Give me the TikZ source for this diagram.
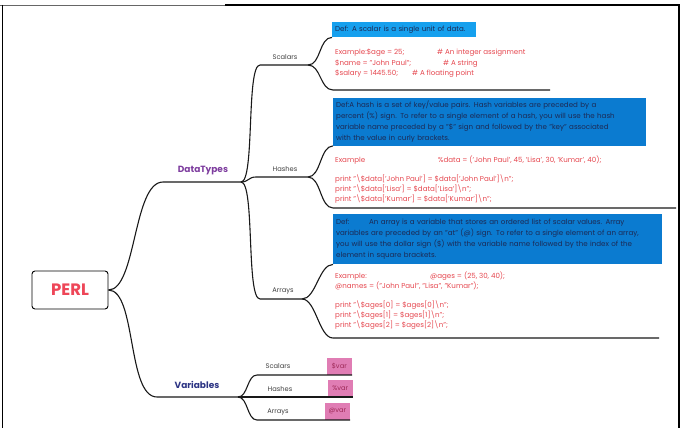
\documentclass[tikz,border=0pt]{standalone}
\usepackage{fontspec}
\setmainfont{Poppins}

\definecolor{perlred}{HTML}{EE4658}
\definecolor{dtpurple}{HTML}{7D3C9E}
\definecolor{varnavy}{HTML}{2C3484}
\definecolor{codered}{HTML}{E5474F}
\definecolor{defnavy}{HTML}{1C2A55}
\definecolor{scalarblue}{HTML}{16A0EE}
\definecolor{defblue}{HTML}{0B7BD0}
\definecolor{varpink}{HTML}{E07DB4}
\definecolor{varred}{HTML}{9E2A58}

\begin{document}
\begin{tikzpicture}[
    x=1pt, y=-1pt,
    branch/.style={line width=1.1pt, black!90},
    rootbox/.style={draw, line width=0.9pt, rounded corners=3pt, minimum width=76, minimum height=38,
      text=perlred, font=\fontsize{16.5}{18}\selectfont\bfseries},
    maintopic/.style={inner sep=0, font=\fontsize{9}{11}\selectfont\bfseries},
    topic/.style={inner sep=0, text=black!75, font=\fontsize{6.7}{8}\selectfont},
    defbox/.style={fill=#1, text=defnavy, anchor=north west, align=left, inner xsep=3, inner ysep=3,
      font=\fontsize{7.1}{11}\selectfont},
    codetext/.style={text=codered, anchor=north west, align=left, inner sep=0,
      font=\fontsize{7.1}{10.4}\selectfont},
    varbox/.style={fill=varpink, text=varred, minimum width=25, minimum height=17, inner sep=0,
      anchor=south east, font=\fontsize{6.7}{8}\selectfont}]
    % 画布大小
    \useasboundingbox (0,0) rectangle (683,428);
    % 外框
    \draw[black!60, line width=0.8pt] (0,5) -- (225,5);
    \draw[line width=1.5pt] (225,5) -- (679,5) -- (679,428);
    \draw[line width=0.8pt] (2,5) -- (2,428);

    % 中心主题
    \node[rootbox] (perl) at (70,290) {PERL};

    % 一级主题 DataTypes、Variables
    \coordinate (dtL) at (163,182);
    \coordinate (dtR) at (241,182);
    \node[maintopic, text=dtpurple] (dt) at (203,171) {DataTypes};
    \coordinate (vrL) at (157,397);
    \coordinate (vrR) at (238,397);
    \node[maintopic, text=varnavy] (vr) at (197,385) {Variables};
    \draw[branch] (perl.east) .. controls +(28,0) and +(-30,0) .. (dtL) -- (dtR);
    \draw[branch] (perl.east) .. controls +(28,0) and +(-30,0) .. (vrL) -- (vrR);

    % 二级主题 Scalars、Hashes、Arrays
    \coordinate (scL) at (260,65);
    \coordinate (scR) at (308,65);
    \node[topic] (sc) at (285,57) {Scalars};
    \coordinate (hsL) at (256,177);
    \coordinate (hsR) at (308,177);
    \node[topic] (hs) at (285,169) {Hashes};
    \coordinate (arL) at (260,299);
    \coordinate (arR) at (302,299);
    \node[topic] (ar) at (283,291) {Arrays};
    \draw[branch] (dtR) .. controls +(14,0) and +(-14,0) .. (scL) -- (scR);
    \draw[branch] (dtR) .. controls +(8,0) and +(-8,0) .. (hsL) -- (hsR);
    \draw[branch] (dtR) .. controls +(14,0) and +(-14,0) .. (arL) -- (arR);

    % Scalars 定义与示例
    \node[defbox=scalarblue, text width=138, minimum height=15] (sdef) at (332,22)
      {Def: A scalar is a single unit of data.};
    \node[codetext] (scode) at (335,49)
      {\makebox[102pt][l]{Example:\$age = 25;}\# An integer assignment\\
       \makebox[108pt][l]{\$name = "John Paul";}\# A string\\
       \makebox[77pt][l]{\$salary = 1445.50;}\# A floating point};
    \coordinate (scB1) at (333,90);
    \coordinate (scB2) at (550,90);
    \draw[branch] (scR) .. controls +(13,0) and +(-13,0) .. (sdef.south west);
    \draw[branch] (scR) .. controls +(13,0) and +(-13,0) .. (scB1) -- (scB2);

    % Hashes 定义与示例
    \node[defbox=defblue, text width=307, minimum height=47] (hdef) at (333,98)
      {Def:A hash is a set of key/value pairs. Hash variables are preceded by a\\
       percent (\%) sign. To refer to a single element of a hash, you will use the hash\\
       variable name preceded by a "\$" sign and followed by the "key" associated\\
       with the value in curly brackets.};
    \node[codetext, font=\fontsize{7.1}{9.7}\selectfont] (hcode) at (335,156)
      {\makebox[103pt][l]{Example}\%data = ('John Paul', 45, 'Lisa', 30, 'Kumar', 40);\\[9.3pt]
       print "\textbackslash\$data['John Paul'] = \$data['John Paul']\textbackslash n";\\
       print "\textbackslash\$data['Lisa'] = \$data['Lisa']\textbackslash n";\\
       print "\textbackslash\$data['Kumar'] = \$data['Kumar']\textbackslash n";};
    \coordinate (hsB1) at (333,208);
    \coordinate (hsB2) at (676,208);
    \draw[branch] (hsR) .. controls +(13,0) and +(-13,0) .. (hdef.south west);
    \draw[branch] (hsR) .. controls +(13,0) and +(-13,0) .. (hsB1) -- (hsB2);

    % Arrays 定义与示例
    \node[defbox=defblue, text width=323, minimum height=50, font=\fontsize{7.1}{10.7}\selectfont] (adef) at (333,214)
      {\makebox[33pt][l]{Def:}An array is a variable that stores an ordered list of scalar values. Array\\
       variables are preceded by an "at" (@) sign. To refer to a single element of an array,\\
       you will use the dollar sign (\$) with the variable name followed by the index of the\\
       element in square brackets.};
    \node[codetext, font=\fontsize{7.1}{10}\selectfont] (acode) at (335,272)
      {\makebox[95pt][l]{Example:}@ages = (25, 30, 40);\\
       @names = ("John Paul", "Lisa", "Kumar");\\[9pt]
       print "\textbackslash\$ages[0] = \$ages[0]\textbackslash n";\\
       print "\textbackslash\$ages[1] = \$ages[1]\textbackslash n";\\
       print "\textbackslash\$ages[2] = \$ages[2]\textbackslash n";};
    \coordinate (arB1) at (333,338);
    \coordinate (arB2) at (659,338);
    \draw[branch] (arR) .. controls +(14,0) and +(-14,0) .. (adef.south west);
    \draw[branch] (arR) .. controls +(14,0) and +(-14,0) .. (arB1) -- (arB2);

    % Variables 子主题
    \coordinate (vsL) at (257,375);
    \coordinate (vhL) at (257,397);
    \coordinate (vaL) at (257,420);
    \node[topic] (vs) at (278,366) {Scalars};
    \node[topic] (vh) at (280,389) {Hashes};
    \node[topic] (va) at (278,412) {Arrays};
    \node[varbox] (vsbox) at (352,375) {\$var};
    \node[varbox] (vhbox) at (353,397) {\%var};
    \node[varbox] (vabox) at (350,420) {@var};
    \draw[branch] (vrR) .. controls +(10,0) and +(-10,0) .. (vsL) -- (vsbox.south east);
    \draw[branch] (vrR) -- (vhL) -- (vhbox.south east);
    \draw[branch] (vrR) .. controls +(10,0) and +(-10,0) .. (vaL) -- (vabox.south east);
\end{tikzpicture}
\end{document}
